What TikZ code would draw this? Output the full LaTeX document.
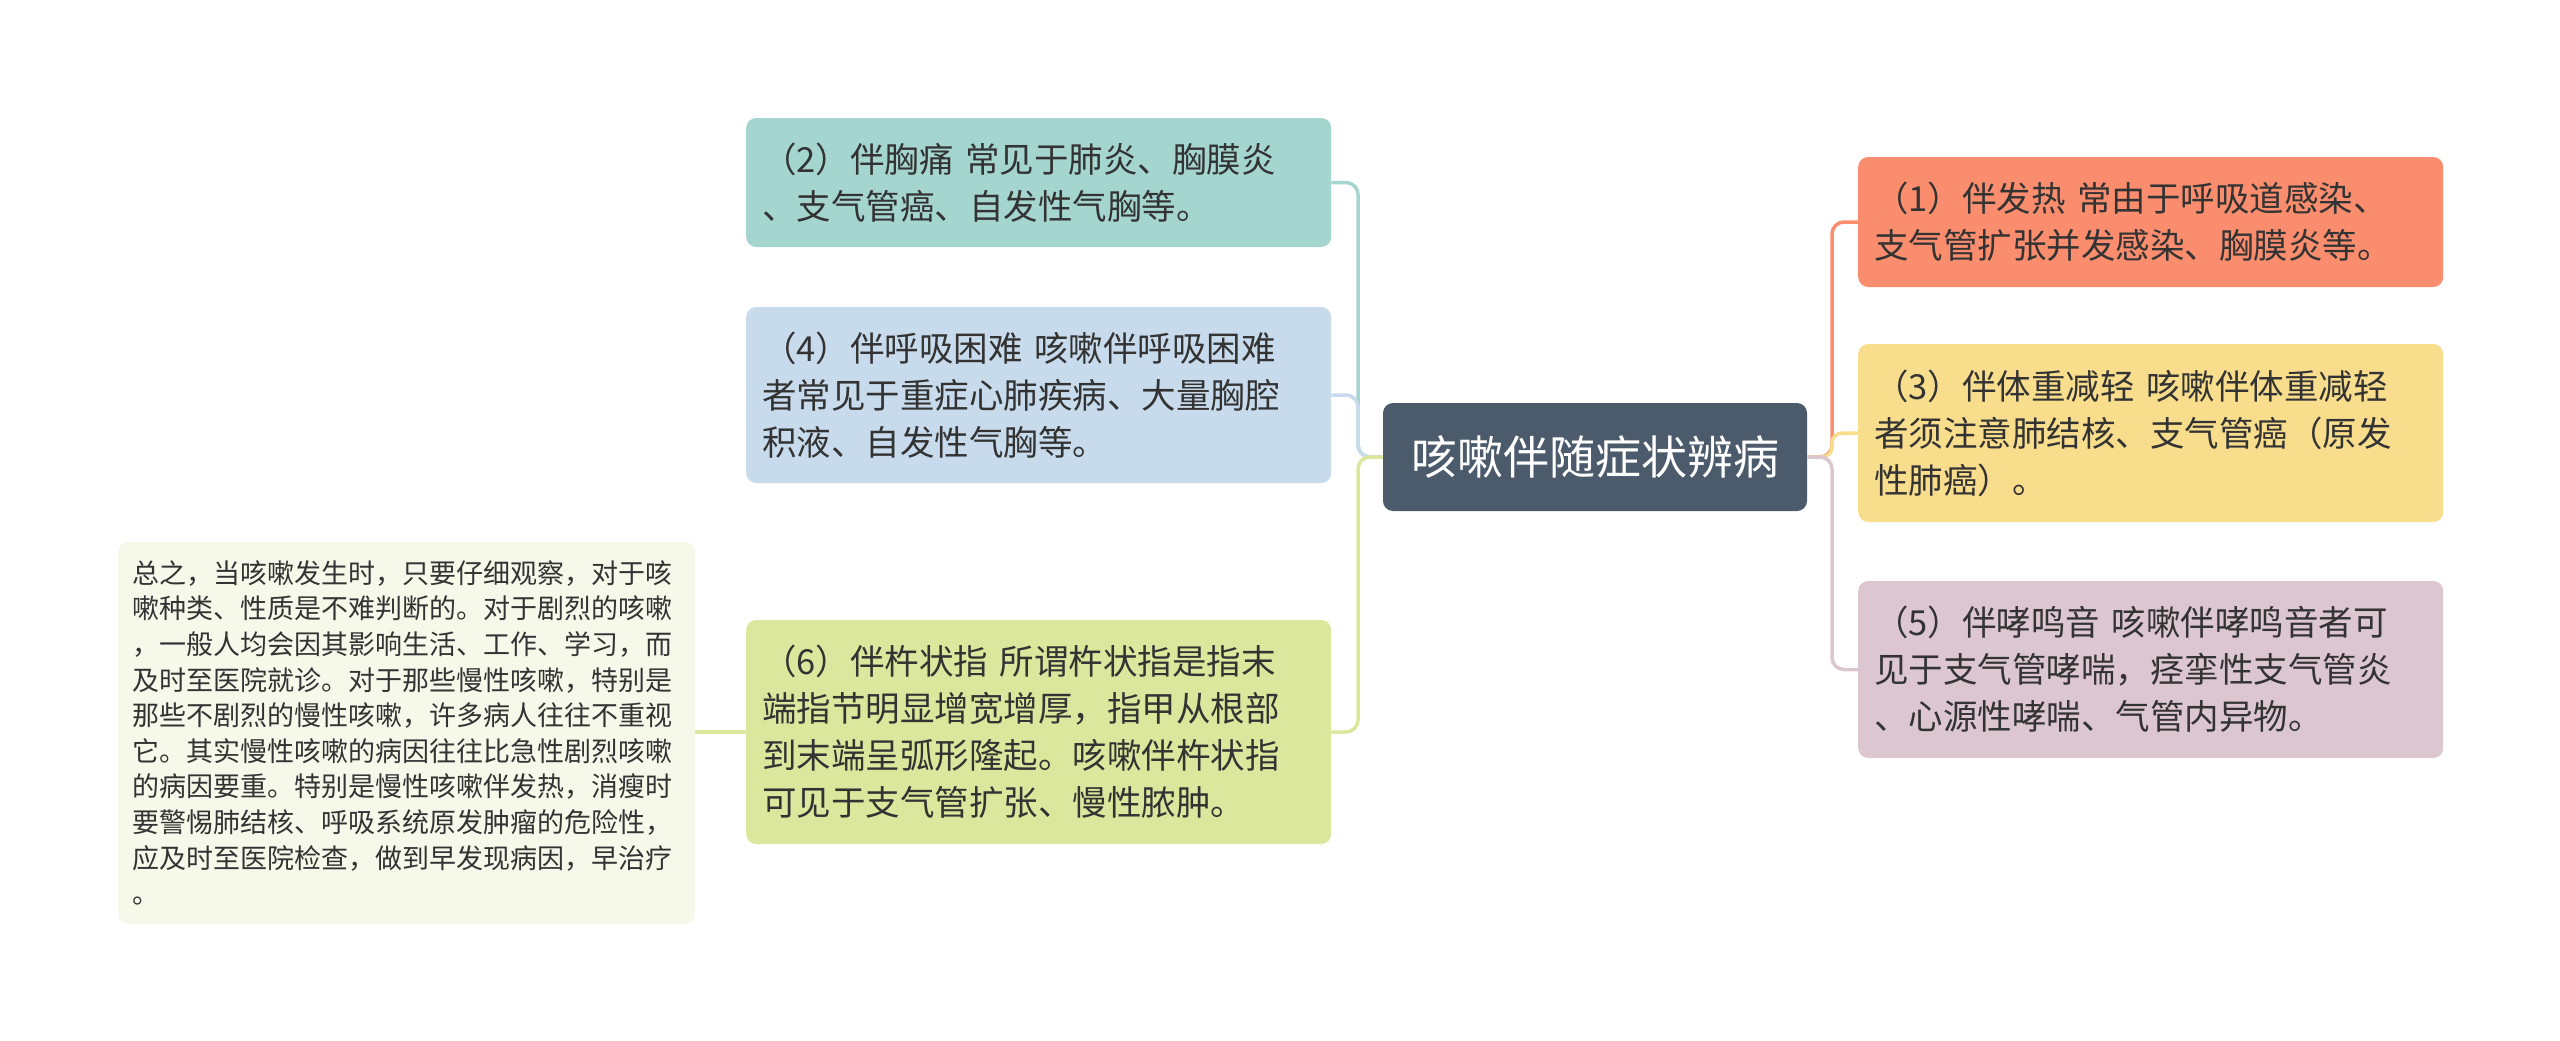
\documentclass[tikz,border=0pt]{standalone}
\usepackage{fontspec}
\setmainfont{Noto Sans CJK SC}
\usepackage{tikz}
\definecolor{rootfill}{HTML}{4B5B6B}
\definecolor{tealfill}{HTML}{A5D5CF}
\definecolor{bluefill}{HTML}{C8DBEC}
\definecolor{greenfill}{HTML}{DAE79C}
\definecolor{notefill}{HTML}{F6F8EA}
\definecolor{salmonfill}{HTML}{F98D6E}
\definecolor{yellowfill}{HTML}{F8DD8D}
\definecolor{pinkfill}{HTML}{DCC6D0}
\definecolor{inktext}{HTML}{333333}

\begin{document}
\begin{tikzpicture}[x=1pt,y=-1pt,
  root/.style={rounded corners=10pt, fill=rootfill, text=white,
    minimum width=424pt, minimum height=108pt, inner sep=0pt,
    font=\fontsize{46}{56}\selectfont},
  leaf/.style={rounded corners=10pt, anchor=west, text=inktext,
    inner xsep=16pt, inner ysep=0pt, text width=553pt, align=left,
    font=\fontsize{34.5}{47}\selectfont},
  note/.style={rounded corners=10pt, anchor=west, text=inktext, fill=notefill,
    inner xsep=14pt, inner ysep=0pt, text width=549pt, align=left,
    minimum height=382pt, font=\fontsize{27}{35.6}\selectfont},
  link/.style={line width=3.5pt, rounded corners=12pt}]
  \useasboundingbox (0,0) rectangle (2560,1041);

  \node[root] (root) at (1595,457) {咳嗽伴随症状辨病};

  \node[leaf, fill=tealfill, minimum height=129pt] (two) at (746,182.5)
    {（2）伴胸痛 常见于肺炎、胸膜炎\\、支气管癌、自发性气胸等。};
  \node[leaf, fill=bluefill, minimum height=176pt] (four) at (746,395)
    {（4）伴呼吸困难 咳嗽伴呼吸困难\\者常见于重症心肺疾病、大量胸腔\\积液、自发性气胸等。};
  \node[leaf, fill=greenfill, minimum height=224pt] (six) at (746,732)
    {（6）伴杵状指 所谓杵状指是指末\\端指节明显增宽增厚，指甲从根部\\到末端呈弧形隆起。咳嗽伴杵状指\\可见于支气管扩张、慢性脓肿。};
  \node[note] (sum) at (118,733)
    {总之，当咳嗽发生时，只要仔细观察，对于咳\\嗽种类、性质是不难判断的。对于剧烈的咳嗽\\，一般人均会因其影响生活、工作、学习，而\\及时至医院就诊。对于那些慢性咳嗽，特别是\\那些不剧烈的慢性咳嗽，许多病人往往不重视\\它。其实慢性咳嗽的病因往往比急性剧烈咳嗽\\的病因要重。特别是慢性咳嗽伴发热，消瘦时\\要警惕肺结核、呼吸系统原发肿瘤的危险性，\\应及时至医院检查，做到早发现病因，早治疗\\。};

  \node[leaf, fill=salmonfill, minimum height=130pt] (one) at (1858,222)
    {（1）伴发热 常由于呼吸道感染、\\支气管扩张并发感染、胸膜炎等。};
  \node[leaf, fill=yellowfill, minimum height=178pt] (three) at (1858,433)
    {（3）伴体重减轻 咳嗽伴体重减轻\\者须注意肺结核、支气管癌（原发\\性肺癌）。};
  \node[leaf, fill=pinkfill, minimum height=177pt] (five) at (1858,669.5)
    {（5）伴哮鸣音 咳嗽伴哮鸣音者可\\见于支气管哮喘，痉挛性支气管炎\\、心源性哮喘、气管内异物。};

  % left side
  \draw[link, tealfill] (root.west) -- (1358,457) -- (1358,182.5) -- (two.east);
  \draw[link, bluefill] (root.west) -- (1358,457) -- (1358,395) -- (four.east);
  \draw[link, greenfill] (root.west) -- (1358,457) -- (1358,732) -- (six.east);
  \draw[line width=3.5pt, greenfill] (six.west) -- (six.west -| sum.east);

  % right side
  \draw[link, salmonfill] (root.east) -- (1832,457) -- (1832,222) -- (one.west);
  \draw[link, yellowfill, rounded corners=10pt] (root.east) -- (1832,457) -- (1832,433) -- (three.west);
  \draw[link, pinkfill] (root.east) -- (1832,457) -- (1832,669.5) -- (five.west);
\end{tikzpicture}
\end{document}
